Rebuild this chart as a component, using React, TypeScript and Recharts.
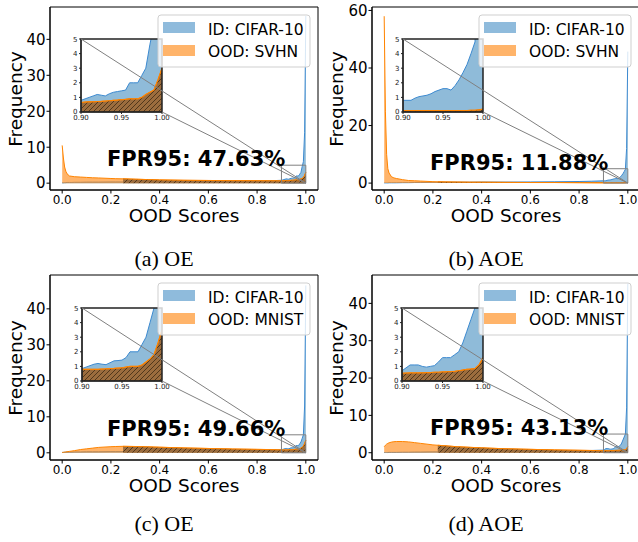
import React from 'react';
import { ComposedChart, Area, XAxis, YAxis, ReferenceArea, CartesianGrid } from 'recharts';

// ---------- data ----------
const SCORES = [
  0.0, 0.005, 0.01, 0.015, 0.02, 0.03, 0.04, 0.05, 0.075, 0.1, 0.125, 0.15, 0.2, 0.22, 0.25, 0.3, 0.35, 0.4, 0.5, 0.6, 0.7, 0.8, 0.85,
  0.9, 0.905, 0.91, 0.915, 0.92, 0.925, 0.93, 0.935, 0.94, 0.945, 0.95, 0.955, 0.96, 0.965, 0.97, 0.975, 0.98, 0.985, 0.99, 0.995, 1.0,
];

const ID_OE_SVHN = [
  0.1, 0.1, 0.15, 0.15, 0.2, 0.2, 0.2, 0.25, 0.25, 0.3, 0.3, 0.3, 0.35, 0.35, 0.35, 0.35, 0.35, 0.35, 0.35, 0.4, 0.45, 0.55, 0.65,
  0.8, 0.9, 1.0, 1.1, 1.2, 1.15, 1.1, 1.25, 1.35, 1.4, 1.45, 1.5, 2.0, 2.0, 2.0, 2.5, 3.0, 4.6, 6.0, 14, 46.5,
];
const OOD_OE_SVHN = [
  10.5, 7.0, 4.5, 3.3, 2.6, 2.0, 1.9, 1.8, 1.7, 1.6, 1.5, 1.45, 1.3, 1.25, 1.2, 1.1, 1.0, 0.9, 0.8, 0.75, 0.7, 0.68, 0.66,
  0.65, 0.68, 0.7, 0.7, 0.72, 0.73, 0.75, 0.77, 0.8, 0.82, 0.85, 0.87, 0.9, 0.9, 0.9, 1.0, 1.2, 1.35, 1.5, 2.2, 3.0,
];
const ID_AOE_SVHN = [
  0.05, 0.05, 0.05, 0.05, 0.1, 0.1, 0.1, 0.1, 0.15, 0.15, 0.2, 0.2, 0.25, 0.25, 0.3, 0.3, 0.3, 0.35, 0.35, 0.4, 0.45, 0.55, 0.65,
  0.8, 0.8, 0.8, 0.95, 1.05, 1.1, 1.15, 1.25, 1.4, 1.5, 1.6, 1.6, 1.5, 1.8, 2.2, 2.7, 3.25, 4.0, 4.8, 12, 45.7,
];
const OOD_AOE_SVHN = [
  58, 25, 10, 5, 3.5, 2.2, 1.8, 1.6, 1.2, 0.9, 0.8, 0.7, 0.5, 0.45, 0.4, 0.35, 0.3, 0.3, 0.25, 0.2, 0.2, 0.15, 0.12,
  0.1, 0.1, 0.1, 0.1, 0.1, 0.1, 0.1, 0.1, 0.1, 0.1, 0.1, 0.1, 0.1, 0.1, 0.1, 0.1, 0.1, 0.12, 0.12, 0.15, 0.2,
];
const ID_OE_MNIST = [
  0.1, 0.1, 0.15, 0.15, 0.2, 0.2, 0.2, 0.25, 0.25, 0.3, 0.3, 0.3, 0.35, 0.35, 0.35, 0.35, 0.35, 0.35, 0.35, 0.4, 0.45, 0.55, 0.65,
  0.85, 0.95, 1.05, 1.15, 1.2, 1.15, 1.12, 1.25, 1.38, 1.4, 1.43, 1.6, 2.0, 2.0, 2.0, 2.5, 3.0, 4.0, 5.0, 13, 46.5,
];
const OOD_OE_MNIST = [
  0.1, 0.15, 0.2, 0.25, 0.3, 0.4, 0.5, 0.6, 0.9, 1.1, 1.3, 1.5, 1.7, 1.75, 1.8, 1.75, 1.65, 1.55, 1.35, 1.2, 1.05, 0.95, 0.9,
  0.8, 0.8, 0.8, 0.8, 0.8, 0.82, 0.83, 0.85, 0.86, 0.88, 0.9, 0.95, 1.0, 1.0, 1.0, 1.1, 1.3, 1.5, 1.8, 2.6, 3.5,
];
const ID_AOE_MNIST = [
  0.05, 0.05, 0.05, 0.05, 0.1, 0.1, 0.1, 0.1, 0.15, 0.15, 0.2, 0.2, 0.25, 0.25, 0.3, 0.3, 0.3, 0.35, 0.35, 0.4, 0.45, 0.5, 0.6,
  0.7, 0.9, 1.1, 1.1, 1.1, 1.0, 0.95, 1.0, 1.05, 1.3, 1.6, 1.6, 1.6, 1.8, 2.0, 2.6, 3.4, 4.2, 5.0, 12, 45.3,
];
const OOD_AOE_MNIST = [
  1.6, 2.0, 2.3, 2.5, 2.65, 2.85, 2.95, 3.0, 3.0, 2.9, 2.7, 2.5, 2.1, 2.0, 1.85, 1.6, 1.45, 1.3, 1.05, 0.9, 0.75, 0.65, 0.6,
  0.53, 0.54, 0.55, 0.55, 0.55, 0.56, 0.57, 0.58, 0.6, 0.6, 0.62, 0.63, 0.65, 0.66, 0.7, 0.75, 0.8, 0.82, 0.85, 1.1, 1.6,
];

const X_TICKS = [0, 0.2, 0.4, 0.6, 0.8, 1.0];
const INSET_X_TICKS = [0.9, 0.95, 1.0];
const INSET_Y_TICKS = [0, 1, 2, 3, 4, 5];
const Y_TICKS_40 = [0, 10, 20, 30, 40];
const Y_TICKS_60 = [0, 20, 40, 60];
const CAPTIONS = ['(a) OE', '(b) AOE', '(c) OE', '(d) AOE'];
const FPR_LABELS = ['FPR95: 47.63%', 'FPR95: 11.88%', 'FPR95: 49.66%', 'FPR95: 43.13%'];
const ID_LABEL = 'ID: CIFAR-10';
const OOD_LABELS = ['OOD: SVHN', 'OOD: SVHN', 'OOD: MNIST', 'OOD: MNIST'];
const X_LABEL = 'OOD Scores';
const Y_LABEL = 'Frequency';
const ZOOM_X: [number, number] = [0.9, 1.0];
const ZOOM_Y: [number, number] = [0, 5];

// ---------- style / layout ----------
const FONT = "'DejaVu Sans', sans-serif";
const SERIF = "'Liberation Serif', 'DejaVu Serif', serif";
const BLUE = '#1f77b4';
const BLUE_LINE = '#3d8ad0';
const ORANGE = '#ff8c1a';
const ORANGE_LINE = '#ff8400';
const BLUE_PATCH = '#8fbbdc';
const ORANGE_PATCH = '#ffb46a';
const X_DOMAIN: [number, number] = [-0.05, 1.05];

type Box = { l: number; t: number; w: number; h: number };
type Panel = {
  id: number[]; ood: number[]; yDomain: [number, number]; yTicks: number[]; hatchFrom: number;
  box: Box; inset: Box; legend: { x: number; y: number }; fpr: { x: number; y: number };
  ylabel: { x: number; y: number }; xlabelY: number; caption: { x: number; y: number };
};

const PANELS: Panel[] = [
  { id: ID_OE_SVHN, ood: OOD_OE_SVHN, yDomain: [-1.9, 49], yTicks: Y_TICKS_40, hatchFrom: 0.25,
    box: { l: 50, t: 7, w: 268, h: 183 }, inset: { l: 81, t: 39, w: 81, h: 73 }, legend: { x: 158, y: 15 },
    fpr: { x: 107, y: 166 }, ylabel: { x: 22, y: 99 }, xlabelY: 222, caption: { x: 164, y: 266 } },
  { id: ID_AOE_SVHN, ood: OOD_AOE_SVHN, yDomain: [-2.4, 61.2], yTicks: Y_TICKS_60, hatchFrom: 0.22,
    box: { l: 372, t: 7, w: 268, h: 183 }, inset: { l: 403, t: 39, w: 80, h: 73 }, legend: { x: 479, y: 15 },
    fpr: { x: 430, y: 170 }, ylabel: { x: 343, y: 99 }, xlabelY: 222, caption: { x: 486, y: 266 } },
  { id: ID_OE_MNIST, ood: OOD_OE_MNIST, yDomain: [-2.0, 49.4], yTicks: Y_TICKS_40, hatchFrom: 0.25,
    box: { l: 50, t: 275, w: 268, h: 185 }, inset: { l: 82, t: 308, w: 80, h: 73 }, legend: { x: 158, y: 283 },
    fpr: { x: 107, y: 436 }, ylabel: { x: 22, y: 368 }, xlabelY: 492, caption: { x: 164, y: 531 } },
  { id: ID_AOE_MNIST, ood: OOD_AOE_MNIST, yDomain: [-1.95, 47.6], yTicks: Y_TICKS_40, hatchFrom: 0.22,
    box: { l: 372, t: 275, w: 268, h: 185 }, inset: { l: 402, t: 308, w: 81, h: 73 }, legend: { x: 479, y: 283 },
    fpr: { x: 430, y: 435 }, ylabel: { x: 343, y: 368 }, xlabelY: 492, caption: { x: 486, y: 531 } },
];

function buildData(p: Panel) {
  return SCORES.map((s, i) => ({
    x: s,
    id: p.id[i],
    ood: p.ood[i],
    hatch: s >= p.hatchFrom ? p.ood[i] : null,
  }));
}

function MainChart({ p }: { p: Panel }) {
  const data = buildData(p);
  const ML = 45, MT = 10, MR = 10, MB = 30;
  return (
    <div style={{ position: 'absolute', left: p.box.l - ML, top: p.box.t - MT }}>
      <ComposedChart width={p.box.w + ML + MR} height={p.box.h + MT + MB} data={data}
        margin={{ top: MT, right: MR, left: 0, bottom: 0 }}>
        <XAxis dataKey="x" type="number" domain={X_DOMAIN} ticks={X_TICKS} interval={0} allowDataOverflow
          height={MB} tickSize={3.5} tickMargin={2} stroke="#000"
          tickFormatter={(v: number) => v.toFixed(1)}
          tick={{ fill: '#000', fontSize: 12, fontFamily: FONT }} />
        <YAxis type="number" domain={p.yDomain} ticks={p.yTicks} interval={0} allowDataOverflow
          width={ML} tickSize={3.5} tickMargin={1} stroke="#000"
          tick={{ fill: '#000', fontSize: 15, fontFamily: FONT }} />
        <Area dataKey="id" type="linear" baseValue={0} fill={BLUE} fillOpacity={0.5} stroke={BLUE_LINE}
          strokeWidth={1} dot={false} activeDot={false} isAnimationActive={false} />
        <Area dataKey="ood" type="linear" baseValue={0} fill={ORANGE} fillOpacity={0.65} stroke={ORANGE_LINE}
          strokeWidth={1} dot={false} activeDot={false} isAnimationActive={false} />
        <Area dataKey="hatch" type="linear" baseValue={0} fill="url(#brownHatch)" fillOpacity={1} stroke={ORANGE_LINE}
          strokeWidth={1} connectNulls={false} dot={false} activeDot={false} isAnimationActive={false} />
        <ReferenceArea x1={ZOOM_X[0]} x2={ZOOM_X[1]} y1={ZOOM_Y[0]} y2={ZOOM_Y[1]} fill="none"
          stroke="#808080" strokeWidth={1} ifOverflow="visible" />
        <ReferenceArea x1={X_DOMAIN[0]} x2={X_DOMAIN[1]} y1={p.yDomain[0]} y2={p.yDomain[1]} fill="none"
          fillOpacity={0} stroke="#000" strokeWidth={1} ifOverflow="visible" />
      </ComposedChart>
    </div>
  );
}

function InsetChart({ p }: { p: Panel }) {
  const data = buildData(p);
  const ML = 12, MT = 3, MR = 10, MB = 12;
  return (
    <div style={{ position: 'absolute', left: p.inset.l - ML, top: p.inset.t - MT }}>
      <ComposedChart width={p.inset.w + ML + MR} height={p.inset.h + MT + MB} data={data}
        margin={{ top: MT, right: MR, left: 0, bottom: 0 }}>
        <CartesianGrid horizontal={false} vertical={false} fill="#ffffff" fillOpacity={1} />
        <XAxis dataKey="x" type="number" domain={ZOOM_X} ticks={INSET_X_TICKS} interval={0} allowDataOverflow
          height={MB} tickSize={2} tickMargin={1.5} stroke="#222"
          tickFormatter={(v: number) => v.toFixed(2)}
          tick={{ fill: '#222', fontSize: 7, fontFamily: FONT }} />
        <YAxis type="number" domain={ZOOM_Y} ticks={INSET_Y_TICKS} interval={0} allowDataOverflow
          width={ML} tickSize={2} tickMargin={1.5} stroke="#222"
          tick={{ fill: '#222', fontSize: 7, fontFamily: FONT }} />
        <Area dataKey="id" type="linear" baseValue={0} fill={BLUE} fillOpacity={0.5} stroke={BLUE_LINE}
          strokeWidth={1} dot={false} activeDot={false} isAnimationActive={false} />
        <Area dataKey="ood" type="linear" baseValue={0} fill={ORANGE} fillOpacity={0.65} stroke={ORANGE_LINE}
          strokeWidth={1} dot={false} activeDot={false} isAnimationActive={false} />
        <Area dataKey="hatch" type="linear" baseValue={0} fill="url(#brownHatch)" fillOpacity={1} stroke={ORANGE_LINE}
          strokeWidth={1.2} connectNulls={false} dot={false} activeDot={false} isAnimationActive={false} />
        <ReferenceArea x1={ZOOM_X[0]} x2={ZOOM_X[1]} y1={ZOOM_Y[0]} y2={ZOOM_Y[1]} fill="none"
          fillOpacity={0} stroke="#222" strokeWidth={1.5} ifOverflow="visible" />
      </ComposedChart>
    </div>
  );
}

function Overlay() {
  return (
    <svg width={638} height={542} style={{ position: 'absolute', left: 0, top: 0, pointerEvents: 'none' }}>
      <defs>
        <pattern id="brownHatch" patternUnits="userSpaceOnUse" width={5} height={5}>
          <rect x={0} y={0} width={5} height={5} fill="#9c6d3e" />
          <path d="M0,5 L5,0 M-1,1 L1,-1 M4,6 L6,4" stroke="#4a3219" strokeWidth={0.9} />
        </pattern>
      </defs>
      {PANELS.map((p, k) => {
        const rx = p.box.l + ((ZOOM_X[1] - X_DOMAIN[0]) / (X_DOMAIN[1] - X_DOMAIN[0])) * p.box.w;
        const ry = p.box.t + ((p.yDomain[1] - ZOOM_Y[0]) / (p.yDomain[1] - p.yDomain[0])) * p.box.h;
        return (
          <g key={k}>
            <line x1={p.inset.l} y1={p.inset.t} x2={rx} y2={ry} stroke="#808080" strokeWidth={1} />
            <line x1={p.inset.l + p.inset.w} y1={p.inset.t + p.inset.h} x2={rx} y2={ry} stroke="#808080" strokeWidth={1} />
            <g transform={`translate(${p.legend.x},${p.legend.y})`}>
              <rect x={0} y={0} width={152} height={52} rx={3} fill="#fff" fillOpacity={0.8} stroke="#cfcfcf" strokeWidth={1} />
              <rect x={5} y={7} width={32} height={11} fill={BLUE_PATCH} />
              <rect x={5} y={30} width={32} height={11} fill={ORANGE_PATCH} />
              <text x={50} y={19.5} fontSize={15.5} fontFamily={FONT} fill="#000">{ID_LABEL}</text>
              <text x={50} y={42} fontSize={15.5} fontFamily={FONT} fill="#000">{OOD_LABELS[k]}</text>
            </g>
            <text x={p.fpr.x} y={p.fpr.y} fontSize={21} fontWeight="bold" fontFamily={FONT} fill="#000">{FPR_LABELS[k]}</text>
            <text transform={`translate(${p.ylabel.x},${p.ylabel.y}) rotate(-90)`} textAnchor="middle"
              fontSize={18.5} fontFamily={FONT} fill="#000">{Y_LABEL}</text>
            <text x={p.box.l + p.box.w / 2} y={p.xlabelY} textAnchor="middle" fontSize={18.5} fontFamily={FONT} fill="#000">{X_LABEL}</text>
            <text x={p.caption.x} y={p.caption.y} textAnchor="middle" fontSize={22} fontFamily={SERIF} fill="#000">{CAPTIONS[k]}</text>
          </g>
        );
      })}
    </svg>
  );
}

export default function App() {
  return (
    <div style={{ position: 'absolute', left: 0, top: 0, width: 638, height: 542, background: '#fff', overflow: 'hidden' }}>
      {PANELS.map((p, k) => <MainChart key={`m${k}`} p={p} />)}
      {PANELS.map((p, k) => <InsetChart key={`i${k}`} p={p} />)}
      <Overlay />
    </div>
  );
}
